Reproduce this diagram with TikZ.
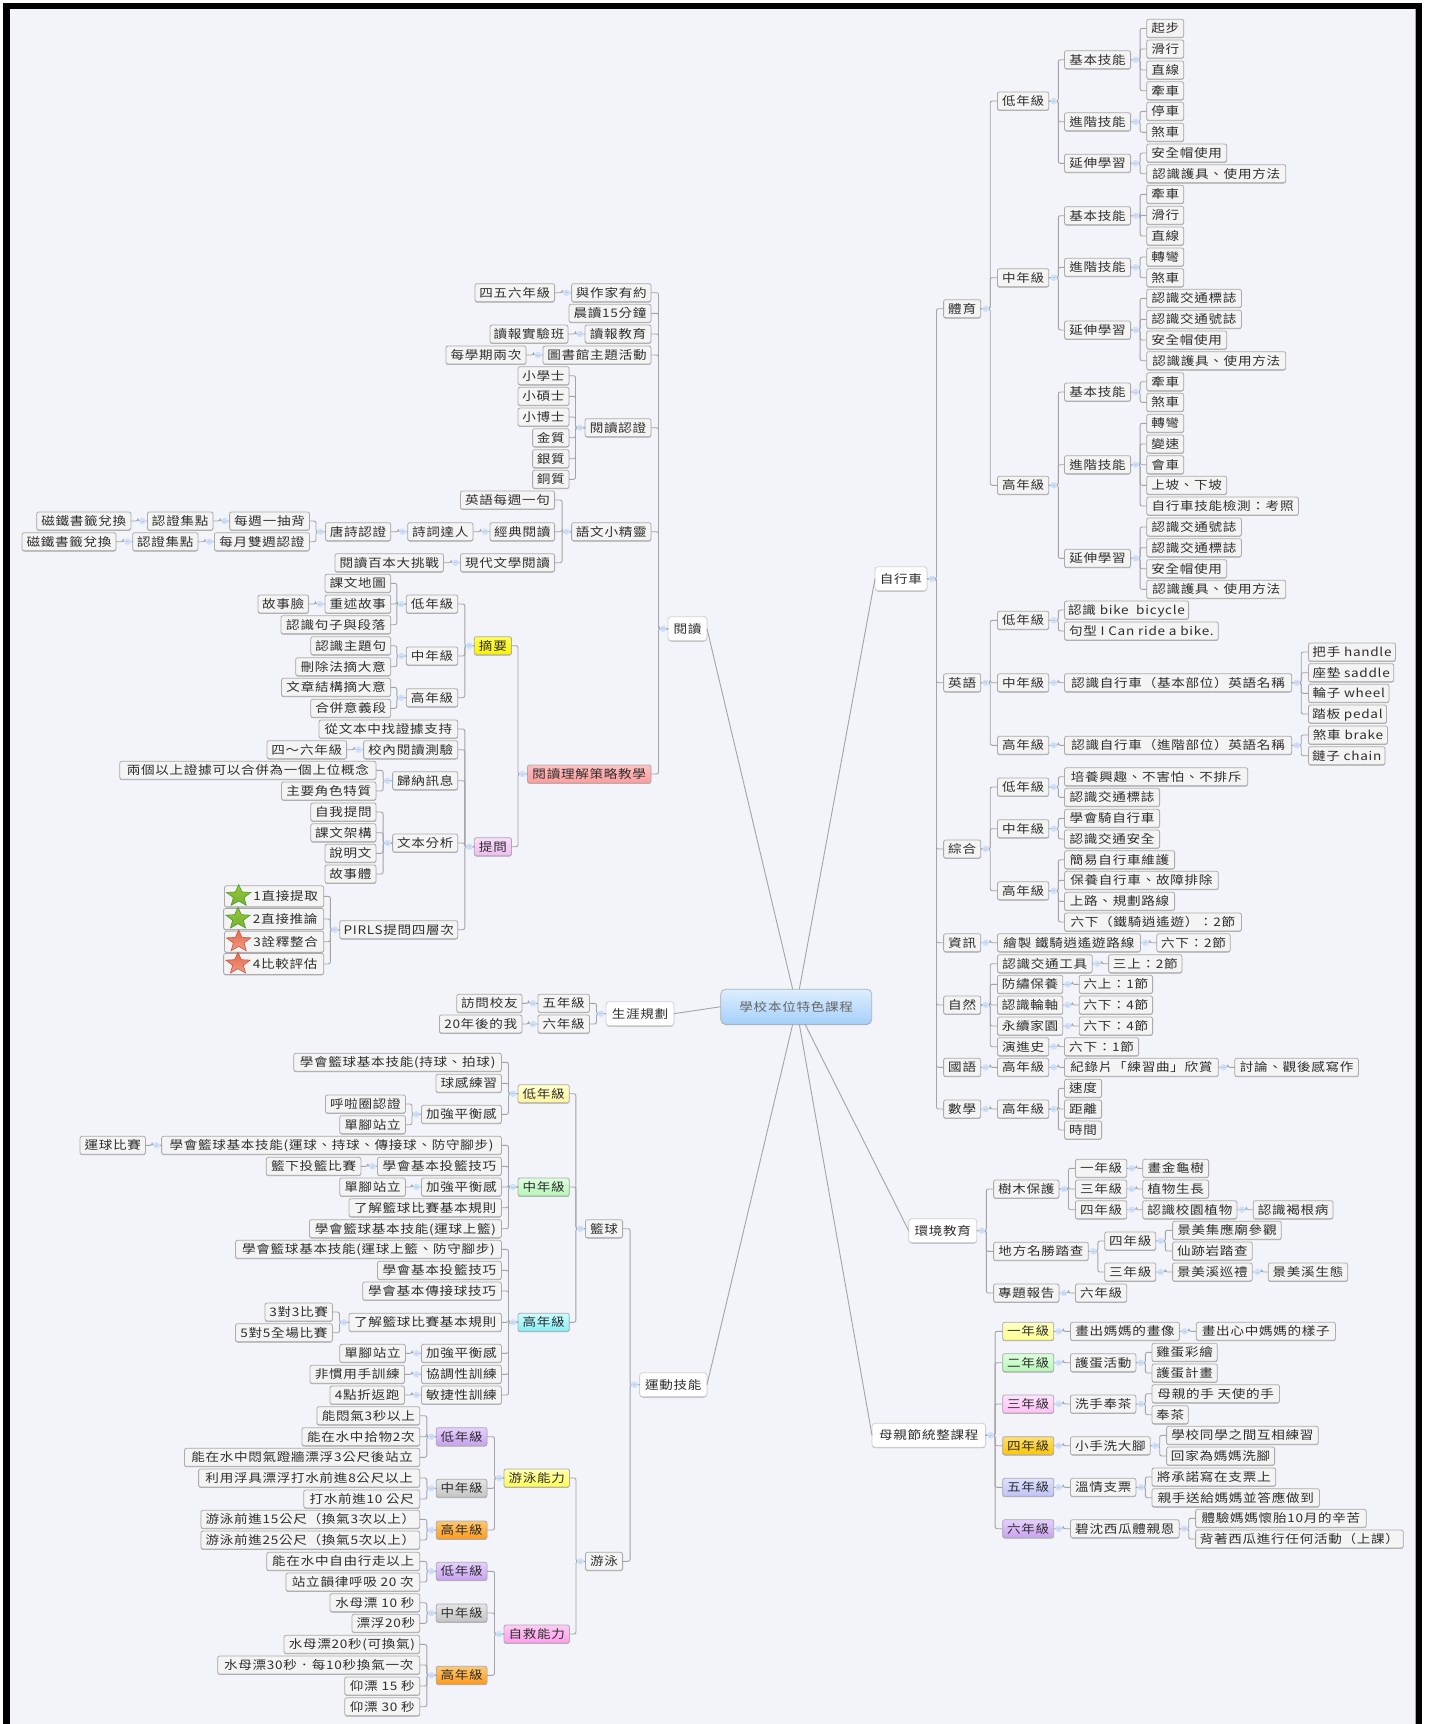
\documentclass[tikz,border=0pt]{standalone}
\usepackage{fontspec}
\setmainfont[FakeStretch=1.15,LetterSpace=6]{Noto Sans CJK TC}
\usetikzlibrary{calc,shapes.geometric,shadows}
\definecolor{bgc}{HTML}{F2F4FA}
\definecolor{linec}{HTML}{A4A4A4}
\definecolor{edgec}{HTML}{ABABAB}
\definecolor{boxc}{HTML}{F4F4F4}
\definecolor{txtc}{HTML}{2E2E2E}
\definecolor{mkc}{HTML}{CFE0FA}
\definecolor{mkd}{HTML}{B4CEF4}
\definecolor{a1}{HTML}{FFFF50}\definecolor{a2}{HTML}{FAF000}
\definecolor{b1}{HTML}{FADDFA}\definecolor{b2}{HTML}{EDBBF0}
\definecolor{c1}{HTML}{FFC0C0}\definecolor{c2}{HTML}{FF9C9C}
\definecolor{d1}{HTML}{FFFFCC}\definecolor{d2}{HTML}{FFF59E}
\definecolor{e1}{HTML}{DDFFDD}\definecolor{e2}{HTML}{B6F5B6}
\definecolor{f1}{HTML}{C8FFFF}\definecolor{f2}{HTML}{88EEF5}
\definecolor{g1}{HTML}{E6D0FF}\definecolor{g2}{HTML}{C8A0F0}
\definecolor{h1}{HTML}{E4E4E4}\definecolor{h2}{HTML}{C4C4C4}
\definecolor{i1}{HTML}{FFC870}\definecolor{i2}{HTML}{FF9A1A}
\definecolor{j1}{HTML}{FFFFB0}\definecolor{j2}{HTML}{FFFF55}
\definecolor{k1}{HTML}{FFCCF6}\definecolor{k2}{HTML}{FF9CEB}
\definecolor{l1}{HTML}{FFFFC4}\definecolor{l2}{HTML}{FFFF90}
\definecolor{m1}{HTML}{FFE2FF}\definecolor{m2}{HTML}{FFBFF5}
\definecolor{n1}{HTML}{FFDF70}\definecolor{n2}{HTML}{FFC400}
\definecolor{o1}{HTML}{DFE2FF}\definecolor{o2}{HTML}{BEC4F5}
\definecolor{p1}{HTML}{DDEEFF}\definecolor{p2}{HTML}{A5D0FB}
\definecolor{sg1}{HTML}{9CC62E}\definecolor{sg2}{HTML}{72B23A}\definecolor{sg3}{HTML}{4E9A2E}
\definecolor{sr1}{HTML}{E8694A}\definecolor{sr2}{HTML}{EE9A86}\definecolor{sr3}{HTML}{C85A45}
\tikzset{
 bx/.style={draw=edgec,fill=boxc,line width=.8pt,rounded corners=2pt,inner sep=0pt,outer sep=0pt,
   minimum height=18pt,text=txtc,text height=10.3pt,text depth=1.4pt,
   font=\fontsize{11.8}{13}\selectfont,
   drop shadow={shadow xshift=0pt,shadow yshift=-.8pt,opacity=.3,fill=black}},
 lvl/.style={fill=white,draw=black!18,minimum height=24pt,rounded corners=3pt},
 stb/.style={minimum height=21pt},
 cya/.style={top color=a1,bottom color=a2},
 cmg/.style={top color=b1,bottom color=b2},
 cre/.style={top color=c1,bottom color=c2},
 cyl/.style={top color=d1,bottom color=d2},
 cgr/.style={top color=e1,bottom color=e2},
 ccy/.style={top color=f1,bottom color=f2},
 cpu/.style={top color=g1,bottom color=g2},
 cgy/.style={top color=h1,bottom color=h2},
 cor/.style={top color=i1,bottom color=i2},
 csw/.style={top color=j1,bottom color=j2},
 cpk/.style={top color=k1,bottom color=k2},
 cly/.style={top color=l1,bottom color=l2},
 clm/.style={top color=m1,bottom color=m2},
 cgo/.style={top color=n1,bottom color=n2},
 cpe/.style={top color=o1,bottom color=o2},
 ctr/.style={top color=p1,bottom color=p2,draw=black!30,minimum height=35pt,rounded corners=5pt,text=black!60},
 conn/.style={draw=linec,line width=.9pt,rounded corners=2pt},
 ray/.style={draw=linec,line width=.9pt},
 gstar/.style={star,star points=5,star point ratio=2.3,minimum size=23pt,inner sep=0pt,xscale=1.12,
   transform shape,top color=sg1,bottom color=sg2,draw=sg3,line width=.6pt},
 rstar/.style={star,star points=5,star point ratio=2.3,minimum size=23pt,inner sep=0pt,xscale=1.12,
   transform shape,top color=sr1,bottom color=sr2,draw=sr3,line width=.6pt},
}
\newcommand{\nd}[6]{\node[bx,minimum width={(#3-#2)*1pt},#5] (#1) at ({(#2+#3)/2},#4) {#6};}
\newcommand{\mkr}[1]{\fill[mkc] #1 ellipse (3.4pt and 3.2pt);\draw[mkd,line width=.6pt] #1 ++(-1.6,0) -- ++(3.2,0);}
\newcommand{\kidsL}[2]{%
 \foreach \c in {#2} {\draw[conn] (#1.west) -- ($(#1.west)+(-9.5,0)$) |- (\c.east);}
 \mkr{($(#1.west)+(-5,0)$)}}
\newcommand{\kidsR}[2]{%
 \foreach \c in {#2} {\draw[conn] (#1.east) -- ($(#1.east)+(9.5,0)$) |- (\c.west);}
 \mkr{($(#1.east)+(5,0)$)}}
\begin{document}
\begin{tikzpicture}[x=1pt,y=-1pt]
\useasboundingbox (0,0) rectangle (1428,1724);
\fill[white] (0,0) rectangle (1428,1724);
\fill[black] (3,3) rectangle (1422,1724);
\fill[bgc] (10,9) rectangle (1416,1724);
\fill[black!35] (1415,9) rectangle (1416,1724);
% centre
\nd{ctr}{720.7}{871.7}{1006.7}{ctr}{學校本位特色課程}
\coordinate (cna) at (792.7,989.3);
\coordinate (cnb) at (799.3,989.3);
\coordinate (csa) at (792.7,1024.2);
\coordinate (csb) at (799.3,1024.2);
\coordinate (csc) at (805,1024.2);
% level 1
\nd{yd}{668}{707}{628.7}{lvl}{閱讀}
\nd{sy}{606}{674}{1013.7}{lvl}{生涯規劃}
\nd{yj}{639.6}{707}{1384.7}{lvl}{運動技能}
\nd{zx}{875}{927}{578.7}{lvl}{自行車}
\nd{hj}{908.7}{976.8}{1230.7}{lvl}{環境教育}
\nd{mq}{872}{985.6}{1435.3}{lvl}{母親節統整課程}
% reading
\nd{r1}{571.6}{651}{292.7}{}{與作家有約}
\nd{r1a}{475}{554.6}{292.7}{}{四五六年級}
\nd{r2}{569}{651}{313.3}{}{晨讀15分鐘}
\nd{r3}{585}{651}{334}{}{讀報教育}
\nd{r3a}{490}{568}{334}{}{讀報實驗班}
\nd{r4}{543}{651}{355}{}{圖書館主題活動}
\nd{r4a}{446}{526}{355}{}{每學期兩次}
\nd{r5}{585}{651}{427.7}{}{閱讀認證}
\nd{r5a}{518}{569}{375.7}{}{小學士}
\nd{r5b}{518}{569}{396.3}{}{小碩士}
\nd{r5c}{518}{569}{417}{}{小博士}
\nd{r5d}{532.6}{569}{437.7}{}{金質}
\nd{r5e}{532.6}{569}{458.7}{}{銀質}
\nd{r5f}{532.6}{569}{479.3}{}{銅質}
\nd{r6}{571.6}{651}{531.7}{}{語文小精靈}
\nd{r6a}{460.5}{554.6}{500}{}{英語每週一句}
\nd{r6b}{490}{554.6}{531.7}{}{經典閱讀}
\nd{r6c}{460.5}{554.6}{562.7}{}{現代文學閱讀}
\nd{r6d}{335}{443.5}{562.7}{}{閱讀百本大挑戰}
\nd{r6e}{407.7}{473}{531.7}{}{詩詞達人}
\nd{r6f}{325.5}{390.7}{531.7}{}{唐詩認證}
\nd{r6g}{229.6}{309.5}{521}{}{每週一抽背}
\nd{r6h}{214.4}{309.5}{541.7}{}{每月雙週認證}
\nd{r6i}{147.4}{213}{521}{}{認證集點}
\nd{r6j}{132.7}{197.9}{541.7}{}{認證集點}
\nd{r6k}{36.7}{130.9}{521}{}{磁鐵書籤兌換}
\nd{r6l}{22}{116}{541.7}{}{磁鐵書籤兌換}
\nd{r7}{527.5}{651}{774}{cre}{閱讀理解策略教學}
\nd{s1}{474.3}{511.5}{645.7}{cya}{摘要}
\nd{s2}{474.3}{511.5}{846.7}{cmg}{提問}
\nd{t1}{406.3}{457.8}{604}{}{低年級}
\nd{t2}{406.3}{457.8}{656}{}{中年級}
\nd{t3}{406.3}{457.8}{697.7}{}{高年級}
\nd{t1a}{325}{390.7}{583.3}{}{課文地圖}
\nd{t1b}{325}{390.7}{604}{}{重述故事}
\nd{t1c}{281}{390.7}{624.7}{}{認識句子與段落}
\nd{t1d}{258}{308.5}{604}{}{故事臉}
\nd{t2a}{310.8}{390.7}{645.7}{}{認識主題句}
\nd{t2b}{295.7}{390.7}{666.7}{}{刪除法摘大意}
\nd{t3a}{281.5}{390.7}{687.3}{}{文章結構摘大意}
\nd{t3b}{310.8}{390.7}{708.3}{}{合併意義段}
\nd{u1}{319}{457.8}{729}{}{從文本中找證據支持}
\nd{u2}{363.6}{457.8}{749.7}{}{校內閱讀測驗}
\nd{u2a}{267}{346.6}{749.7}{}{四～六年級}
\nd{u3}{392.6}{457.8}{780.7}{}{歸納訊息}
\nd{u3a}{119.8}{376}{770.3}{}{兩個以上證據可以合併為一個上位概念}
\nd{u3b}{281.5}{376}{791}{}{主要角色特質}
\nd{u4}{392.6}{457.8}{843}{}{文本分析}
\nd{u4a}{310.8}{376}{812}{}{自我提問}
\nd{u4b}{310.8}{376}{832.7}{}{課文架構}
\nd{u4c}{325}{376}{853.3}{}{說明文}
\nd{u4d}{325}{376}{874}{}{故事體}
\nd{u5}{339.8}{457.8}{929.7}{}{PIRLS提問四層次}
\nd{u5a}{224.5}{323.7}{896.3}{stb}{\hspace{23pt}1直接提取}
\nd{u5b}{223.6}{323.7}{919}{stb}{\hspace{23pt}2直接推論}
\nd{u5c}{224.5}{323.7}{941.7}{stb}{\hspace{23pt}3詮釋整合}
\nd{u5d}{223.6}{323.7}{964}{stb}{\hspace{23pt}4比較評估}
\node[gstar] (sta) at (238.7,896) {};
\node[gstar] (stb) at (238,918.7) {};
\node[rstar] (stc) at (238.7,941.4) {};
\node[rstar] (std) at (238,963.7) {};
% career
\nd{sy1}{538}{589.5}{1003.3}{}{五年級}
\nd{sy2}{538}{589.5}{1024}{}{六年級}
\nd{sy1a}{456.8}{522}{1003.3}{}{訪問校友}
\nd{sy2a}{439.4}{522}{1024}{}{20年後的我}
% basketball
\nd{lq}{585.4}{622.6}{1228.7}{}{籃球}
\nd{lq1}{518}{569.3}{1093.7}{cyl}{低年級}
\nd{lq2}{518}{569.3}{1187}{cgr}{中年級}
\nd{lq3}{518}{569.3}{1322.3}{ccy}{高年級}
\nd{a1}{293.8}{501.4}{1062.3}{}{學會籃球基本技能(持球、拍球)}
\nd{a2}{436}{501.4}{1083.3}{}{球感練習}
\nd{a3}{421.5}{501.4}{1114.3}{}{加強平衡感}
\nd{a3a}{325.5}{405.4}{1104}{}{呼啦圈認證}
\nd{a3b}{339.8}{405.4}{1124.7}{}{單腳站立}
\nd{b1}{161.6}{501.4}{1145.3}{}{學會籃球基本技能(運球、持球、傳接球、防守腳步)}
\nd{b1a}{80}{145.5}{1145.3}{}{運球比賽}
\nd{b2}{377.4}{501.4}{1166.3}{}{學會基本投籃技巧}
\nd{b2a}{266.3}{360.9}{1166.3}{}{籃下投籃比賽}
\nd{b3}{421.5}{501.4}{1187}{}{加強平衡感}
\nd{b3a}{339.8}{405.4}{1187}{}{單腳站立}
\nd{b4}{349}{501.4}{1207.7}{}{了解籃球比賽基本規則}
\nd{b5}{309.5}{501.4}{1228.7}{}{學會籃球基本技能(運球上籃)}
\nd{c1}{235.5}{501.4}{1249.3}{}{學會籃球基本技能(運球上籃、防守腳步)}
\nd{c2}{377.4}{501.4}{1270.3}{}{學會基本投籃技巧}
\nd{c3}{362.7}{501.4}{1291}{}{學會基本傳接球技巧}
\nd{c4}{349}{501.4}{1322.3}{}{了解籃球比賽基本規則}
\nd{c4a}{265}{332.4}{1312}{}{3對3比賽}
\nd{c4b}{235.5}{332.4}{1332.7}{}{5對5全場比賽}
\nd{c5}{421.5}{501.4}{1353.3}{}{加強平衡感}
\nd{c5a}{339.8}{405.4}{1353.3}{}{單腳站立}
\nd{c6}{421.5}{501.4}{1374.3}{}{協調性訓練}
\nd{c6a}{310}{404.5}{1374.3}{}{非慣用手訓練}
\nd{c7}{421.5}{501.4}{1395}{}{敏捷性訓練}
\nd{c7a}{330}{404.5}{1395}{}{4點折返跑}
% swimming
\nd{yy}{585.5}{622.6}{1561.3}{}{游泳}
\nd{yn}{504}{569.4}{1478}{csw}{游泳能力}
\nd{zj}{504}{569.4}{1634}{cpk}{自救能力}
\nd{y1}{436.3}{487}{1436.7}{cpu}{低年級}
\nd{y2}{436.3}{487}{1488.3}{cgy}{中年級}
\nd{y3}{436.3}{487}{1530}{cor}{高年級}
\nd{y1a}{316.9}{419.8}{1415.7}{}{能悶氣3秒以上}
\nd{y1b}{302}{419.8}{1436.7}{}{能在水中拾物2次}
\nd{y1c}{184.4}{419.8}{1457.3}{}{能在水中悶氣蹬牆漂浮3公尺後站立}
\nd{y2a}{198.6}{419.8}{1478}{}{利用浮具漂浮打水前進8公尺以上}
\nd{y2b}{303.8}{419.8}{1499}{}{打水前進10 公尺}
\nd{y3a}{200.9}{419.8}{1519.3}{}{游泳前進15公尺（換氣3次以上）}
\nd{y3b}{200.9}{419.8}{1540}{}{游泳前進25公尺（換氣5次以上）}
\nd{z1}{436.3}{487}{1571.3}{cpu}{低年級}
\nd{z2}{436.3}{487}{1613}{cgy}{中年級}
\nd{z3}{436.3}{487}{1675.3}{cor}{高年級}
\nd{z1a}{266.7}{419.8}{1561.3}{}{能在水中自由行走以上}
\nd{z1b}{285.9}{419.8}{1582}{}{站立韻律呼吸 20 次}
\nd{z2a}{330}{419.8}{1602.7}{}{水母漂 10 秒}
\nd{z2b}{352}{419.8}{1623.3}{}{漂浮20秒}
\nd{z3a}{284}{419.8}{1644.3}{}{水母漂20秒(可換氣)}
\nd{z3b}{217.7}{419.8}{1665}{}{水母漂30秒．每10秒換氣一次}
\nd{z3c}{344.8}{419.8}{1686}{}{仰漂 15 秒}
\nd{z3d}{344.8}{419.8}{1706.7}{}{仰漂 30 秒}
% bicycle: PE
\nd{ty}{943.6}{980.7}{308.7}{}{體育}
\nd{ty1}{997.4}{1048.8}{101}{}{低年級}
\nd{ty2}{997.4}{1048.8}{277.7}{}{中年級}
\nd{ty3}{997.4}{1048.8}{485.3}{}{高年級}
\nd{p1}{1064.5}{1130.6}{59.7}{}{基本技能}
\nd{p2}{1064.5}{1130.6}{121.7}{}{進階技能}
\nd{p3}{1064.5}{1130.6}{163.3}{}{延伸學習}
\nd{p1a}{1146.7}{1183.7}{28.3}{}{起步}
\nd{p1b}{1146.7}{1183.7}{49}{}{滑行}
\nd{p1c}{1146.7}{1183.7}{70}{}{直線}
\nd{p1d}{1146.7}{1183.7}{90.7}{}{牽車}
\nd{p2a}{1146.7}{1183.7}{111.3}{}{停車}
\nd{p2b}{1146.7}{1183.7}{132.3}{}{煞車}
\nd{p3a}{1146.7}{1226.7}{153}{}{安全帽使用}
\nd{p3b}{1146.7}{1285.8}{173.7}{}{認識護具、使用方法}
\nd{q1}{1064.5}{1130.6}{215.7}{}{基本技能}
\nd{q2}{1064.5}{1130.6}{267.3}{}{進階技能}
\nd{q3}{1064.5}{1130.6}{330}{}{延伸學習}
\nd{q1a}{1146.7}{1183.7}{194.3}{}{牽車}
\nd{q1b}{1146.7}{1183.7}{215.3}{}{滑行}
\nd{q1c}{1146.7}{1183.7}{236}{}{直線}
\nd{q2a}{1146.7}{1183.7}{257}{}{轉彎}
\nd{q2b}{1146.7}{1183.7}{277.7}{}{煞車}
\nd{q3a}{1146.7}{1241.4}{298.3}{}{認識交通標誌}
\nd{q3b}{1146.7}{1241.4}{319.3}{}{認識交通號誌}
\nd{q3c}{1146.7}{1226.7}{340}{}{安全帽使用}
\nd{q3d}{1146.7}{1285.8}{360.7}{}{認識護具、使用方法}
\nd{v1}{1064.5}{1130.6}{392}{}{基本技能}
\nd{v2}{1064.5}{1130.6}{464.7}{}{進階技能}
\nd{v3}{1064.5}{1130.6}{558.3}{}{延伸學習}
\nd{v1a}{1146.7}{1183.7}{381.7}{}{牽車}
\nd{v1b}{1146.7}{1183.7}{402.3}{}{煞車}
\nd{v2a}{1146.7}{1183.7}{423.3}{}{轉彎}
\nd{v2b}{1146.7}{1183.7}{444}{}{變速}
\nd{v2c}{1146.7}{1183.7}{464.7}{}{會車}
\nd{v2d}{1146.7}{1226.7}{485.3}{}{上坡、下坡}
\nd{v2e}{1146.7}{1298.4}{506}{}{自行車技能檢測：考照}
\nd{v3a}{1146.7}{1241.4}{527}{}{認識交通號誌}
\nd{v3b}{1146.7}{1241.4}{547.7}{}{認識交通標誌}
\nd{v3c}{1146.7}{1226.7}{568.7}{}{安全帽使用}
\nd{v3d}{1146.7}{1285.8}{589.3}{}{認識護具、使用方法}
% English
\nd{en}{943.6}{980.7}{682.7}{}{英語}
\nd{en1}{997.4}{1048.8}{620.3}{}{低年級}
\nd{en2}{997.4}{1048.8}{682.7}{}{中年級}
\nd{en3}{997.4}{1048.8}{745.3}{}{高年級}
\nd{e1a}{1064.5}{1188.6}{610}{}{認識 bike\ \ bicycle}
\nd{e1b}{1064.5}{1218.3}{631}{}{句型 I Can ride a bike.}
\nd{e2a}{1064.5}{1291.7}{682.7}{}{認識自行車（基本部位）英語名稱}
\nd{e3a}{1064.5}{1291.7}{745.3}{}{認識自行車（進階部位）英語名稱}
\nd{e2b}{1308.5}{1395.5}{652}{}{把手 handle}
\nd{e2c}{1308.5}{1393.8}{672.7}{}{座墊 saddle}
\nd{e2d}{1308.5}{1389}{693.3}{}{輪子 wheel}
\nd{e2e}{1308.5}{1386.5}{714}{}{踏板 pedal}
\nd{e3b}{1308.5}{1387.5}{735}{}{煞車 brake}
\nd{e3c}{1308.5}{1385}{755.7}{}{鏈子 chain}
% Integrated
\nd{zh}{943.6}{980.7}{849}{}{綜合}
\nd{zh1}{997.4}{1048.8}{787}{}{低年級}
\nd{zh2}{997.4}{1048.8}{828.7}{}{中年級}
\nd{zh3}{997.4}{1048.8}{890.7}{}{高年級}
\nd{h1a}{1064.5}{1247.7}{776.7}{}{培養興趣、不害怕、不排斥}
\nd{h1b}{1064.5}{1159.6}{797.3}{}{認識交通標誌}
\nd{h2a}{1064.5}{1159.6}{818.3}{}{學會騎自行車}
\nd{h2b}{1064.5}{1159.6}{839}{}{認識交通安全}
\nd{h3a}{1064.5}{1174.6}{859.7}{}{簡易自行車維護}
\nd{h3b}{1064.5}{1218.3}{880.3}{}{保養自行車、故障排除}
\nd{h3c}{1064.5}{1174.6}{901.3}{}{上路、規劃路線}
\nd{h3d}{1064.5}{1241.4}{922}{}{六下（鐵騎逍遙遊）：2節}
% IT
\nd{zi}{943.6}{980.7}{942.7}{}{資訊}
\nd{zi1}{997.4}{1140.4}{942.7}{}{繪製 鐵騎逍遙遊路線}
\nd{zi2}{1156.8}{1230.2}{942.7}{}{六下：2節}
% Nature
\nd{zr}{943.6}{980.7}{1005}{}{自然}
\nd{zr1}{997.4}{1092.2}{963.7}{}{認識交通工具}
\nd{zr1a}{1108.6}{1182}{963.7}{}{三上：2節}
\nd{zr2}{997.4}{1062.8}{984.3}{}{防繡保養}
\nd{zr2a}{1079.2}{1152.6}{984.3}{}{六上：1節}
\nd{zr3}{997.4}{1062.8}{1005}{}{認識輪軸}
\nd{zr3a}{1079.2}{1152.6}{1005}{}{六下：4節}
\nd{zr4}{997.4}{1062.8}{1026}{}{永續家園}
\nd{zr4a}{1079.2}{1152.6}{1026}{}{六下：4節}
\nd{zr5}{997.4}{1048.8}{1046.7}{}{演進史}
\nd{zr5a}{1064.5}{1138.6}{1046.7}{}{六下：1節}
% Chinese
\nd{gy}{943.6}{980.7}{1067.3}{}{國語}
\nd{gy1}{997.4}{1048.8}{1067.3}{}{高年級}
\nd{gy2}{1064.5}{1218.3}{1067.3}{}{紀錄片「練習曲」欣賞}
\nd{gy3}{1234.8}{1358.5}{1067.3}{}{討論、觀後感寫作}
% Math
\nd{sx}{943.6}{980.7}{1109}{}{數學}
\nd{sx1}{997.4}{1048.8}{1109}{}{高年級}
\nd{sxa}{1064.5}{1101.6}{1088.3}{}{速度}
\nd{sxb}{1064.5}{1101.6}{1109}{}{距離}
\nd{sxc}{1064.5}{1101.6}{1130}{}{時間}
% Environment
\nd{hj1}{993.6}{1059}{1189}{}{樹木保護}
\nd{hj2}{993.6}{1088.3}{1251.3}{}{地方名勝踏查}
\nd{hj3}{993.6}{1059}{1293}{}{專題報告}
\nd{w1}{1075.4}{1126.8}{1168.3}{}{一年級}
\nd{w1a}{1142.8}{1208.6}{1168.3}{}{畫金龜樹}
\nd{w2}{1075.4}{1126.8}{1189}{}{三年級}
\nd{w2a}{1142.8}{1208.6}{1189}{}{植物生長}
\nd{w3}{1075.4}{1126.8}{1209.7}{}{四年級}
\nd{w3a}{1142.8}{1236.9}{1209.7}{}{認識校園植物}
\nd{w3b}{1253.3}{1333}{1209.7}{}{認識褐根病}
\nd{w4}{1104.7}{1155.8}{1241}{}{四年級}
\nd{w4a}{1172.6}{1281.3}{1230.3}{}{景美集應廟參觀}
\nd{w4b}{1172.6}{1252.2}{1251}{}{仙跡岩踏查}
\nd{w5}{1104.7}{1155.8}{1272}{}{三年級}
\nd{w5a}{1172.6}{1252.2}{1272}{}{景美溪巡禮}
\nd{w5b}{1268.3}{1347.7}{1272}{}{景美溪生態}
\nd{w6}{1075.4}{1126.8}{1293}{}{六年級}
% Mother's day
\nd{mq1}{1002.7}{1053.7}{1331.3}{cly}{一年級}
\nd{mq2}{1002.7}{1053.7}{1362.7}{cgr}{二年級}
\nd{mq3}{1002.7}{1053.7}{1404}{clm}{三年級}
\nd{mq4}{1002.7}{1053.7}{1445.7}{cgo}{四年級}
\nd{mq5}{1002.7}{1053.7}{1487.3}{cpe}{五年級}
\nd{mq6}{1002.7}{1053.7}{1528.7}{cpu}{六年級}
\nd{x1}{1070.5}{1179.5}{1331.3}{}{畫出媽媽的畫像}
\nd{x1a}{1196.3}{1335.4}{1331.3}{}{畫出心中媽媽的樣子}
\nd{x2}{1070.5}{1135.9}{1362.7}{}{護蛋活動}
\nd{x2a}{1152}{1217.3}{1352.3}{}{雞蛋彩繪}
\nd{x2b}{1152}{1217.3}{1373}{}{護蛋計畫}
\nd{x3}{1070.5}{1135.9}{1404}{}{洗手奉茶}
\nd{x3a}{1152}{1279.5}{1393.7}{}{母親的手 天使的手}
\nd{x3b}{1152}{1188.3}{1414.7}{}{奉茶}
\nd{x4}{1070.5}{1150.2}{1445.7}{}{小手洗大腳}
\nd{x4a}{1166.6}{1318.3}{1435.3}{}{學校同學之間互相練習}
\nd{x4b}{1166.6}{1274.6}{1456}{}{回家為媽媽洗腳}
\nd{x5}{1070.5}{1135.9}{1487.3}{}{溫情支票}
\nd{x5a}{1152}{1275.7}{1477}{}{將承諾寫在支票上}
\nd{x5b}{1152}{1319.4}{1497.7}{}{親手送給媽媽並答應做到}
\nd{x6}{1070.5}{1179.2}{1528.7}{}{碧沈西瓜體親恩}
\nd{x6a}{1195.6}{1366.2}{1518.3}{}{體驗媽媽懷胎10月的辛苦}
\nd{x6b}{1195.6}{1403.2}{1539}{}{背著西瓜進行任何活動（上課）}
% rays
\draw[ray] (cna) -- (yd.east);
\draw[ray] (cnb) -- (zx.west);
\draw[ray] (ctr.west) -- (sy.east);
\draw[ray] (csa) -- (yj.east);
\draw[ray] (csb) -- (mq.west);
\draw[ray] (csc) -- (hj.west);
% left trees
\kidsL{yd}{r1,r2,r3,r4,r5,r6,r7}
\kidsL{r1}{r1a}\kidsL{r3}{r3a}\kidsL{r4}{r4a}
\kidsL{r5}{r5a,r5b,r5c,r5d,r5e,r5f}
\kidsL{r6}{r6a,r6b,r6c}
\kidsL{r6b}{r6e}\kidsL{r6e}{r6f}\kidsL{r6f}{r6g,r6h}
\kidsL{r6g}{r6i}\kidsL{r6h}{r6j}\kidsL{r6i}{r6k}\kidsL{r6j}{r6l}
\kidsL{r6c}{r6d}
\kidsL{r7}{s1,s2}
\kidsL{s1}{t1,t2,t3}
\kidsL{t1}{t1a,t1b,t1c}\kidsL{t1b}{t1d}\kidsL{t2}{t2a,t2b}\kidsL{t3}{t3a,t3b}
\kidsL{s2}{u1,u2,u3,u4,u5}
\kidsL{u2}{u2a}\kidsL{u3}{u3a,u3b}\kidsL{u4}{u4a,u4b,u4c,u4d}\kidsL{u5}{u5a,u5b,u5c,u5d}
\kidsL{sy}{sy1,sy2}\kidsL{sy1}{sy1a}\kidsL{sy2}{sy2a}
\kidsL{yj}{lq,yy}
\kidsL{lq}{lq1,lq2,lq3}
\kidsL{lq1}{a1,a2,a3}\kidsL{a3}{a3a,a3b}
\kidsL{lq2}{b1,b2,b3,b4,b5}\kidsL{b1}{b1a}\kidsL{b2}{b2a}\kidsL{b3}{b3a}
\kidsL{lq3}{c1,c2,c3,c4,c5,c6,c7}\kidsL{c4}{c4a,c4b}\kidsL{c5}{c5a}\kidsL{c6}{c6a}\kidsL{c7}{c7a}
\kidsL{yy}{yn,zj}
\kidsL{yn}{y1,y2,y3}\kidsL{y1}{y1a,y1b,y1c}\kidsL{y2}{y2a,y2b}\kidsL{y3}{y3a,y3b}
\kidsL{zj}{z1,z2,z3}\kidsL{z1}{z1a,z1b}\kidsL{z2}{z2a,z2b}\kidsL{z3}{z3a,z3b,z3c,z3d}
% right trees
\kidsR{zx}{ty,en,zh,zi,zr,gy,sx}
\kidsR{ty}{ty1,ty2,ty3}
\kidsR{ty1}{p1,p2,p3}\kidsR{p1}{p1a,p1b,p1c,p1d}\kidsR{p2}{p2a,p2b}\kidsR{p3}{p3a,p3b}
\kidsR{ty2}{q1,q2,q3}\kidsR{q1}{q1a,q1b,q1c}\kidsR{q2}{q2a,q2b}\kidsR{q3}{q3a,q3b,q3c,q3d}
\kidsR{ty3}{v1,v2,v3}\kidsR{v1}{v1a,v1b}\kidsR{v2}{v2a,v2b,v2c,v2d,v2e}\kidsR{v3}{v3a,v3b,v3c,v3d}
\kidsR{en}{en1,en2,en3}\kidsR{en1}{e1a,e1b}\kidsR{en2}{e2a}\kidsR{en3}{e3a}
\kidsR{e2a}{e2b,e2c,e2d,e2e}\kidsR{e3a}{e3b,e3c}
\kidsR{zh}{zh1,zh2,zh3}\kidsR{zh1}{h1a,h1b}\kidsR{zh2}{h2a,h2b}\kidsR{zh3}{h3a,h3b,h3c,h3d}
\kidsR{zi}{zi1}\kidsR{zi1}{zi2}
\kidsR{zr}{zr1,zr2,zr3,zr4,zr5}\kidsR{zr1}{zr1a}\kidsR{zr2}{zr2a}\kidsR{zr3}{zr3a}\kidsR{zr4}{zr4a}\kidsR{zr5}{zr5a}
\kidsR{gy}{gy1}\kidsR{gy1}{gy2}\kidsR{gy2}{gy3}
\kidsR{sx}{sx1}\kidsR{sx1}{sxa,sxb,sxc}
\kidsR{hj}{hj1,hj2,hj3}
\kidsR{hj1}{w1,w2,w3}\kidsR{w1}{w1a}\kidsR{w2}{w2a}\kidsR{w3}{w3a}\kidsR{w3a}{w3b}
\kidsR{hj2}{w4,w5}\kidsR{w4}{w4a,w4b}\kidsR{w5}{w5a}\kidsR{w5a}{w5b}
\kidsR{hj3}{w6}
\kidsR{mq}{mq1,mq2,mq3,mq4,mq5,mq6}
\kidsR{mq1}{x1}\kidsR{x1}{x1a}
\kidsR{mq2}{x2}\kidsR{x2}{x2a,x2b}
\kidsR{mq3}{x3}\kidsR{x3}{x3a,x3b}
\kidsR{mq4}{x4}\kidsR{x4}{x4a,x4b}
\kidsR{mq5}{x5}\kidsR{x5}{x5a,x5b}
\kidsR{mq6}{x6}\kidsR{x6}{x6a,x6b}
\end{tikzpicture}
\end{document}
